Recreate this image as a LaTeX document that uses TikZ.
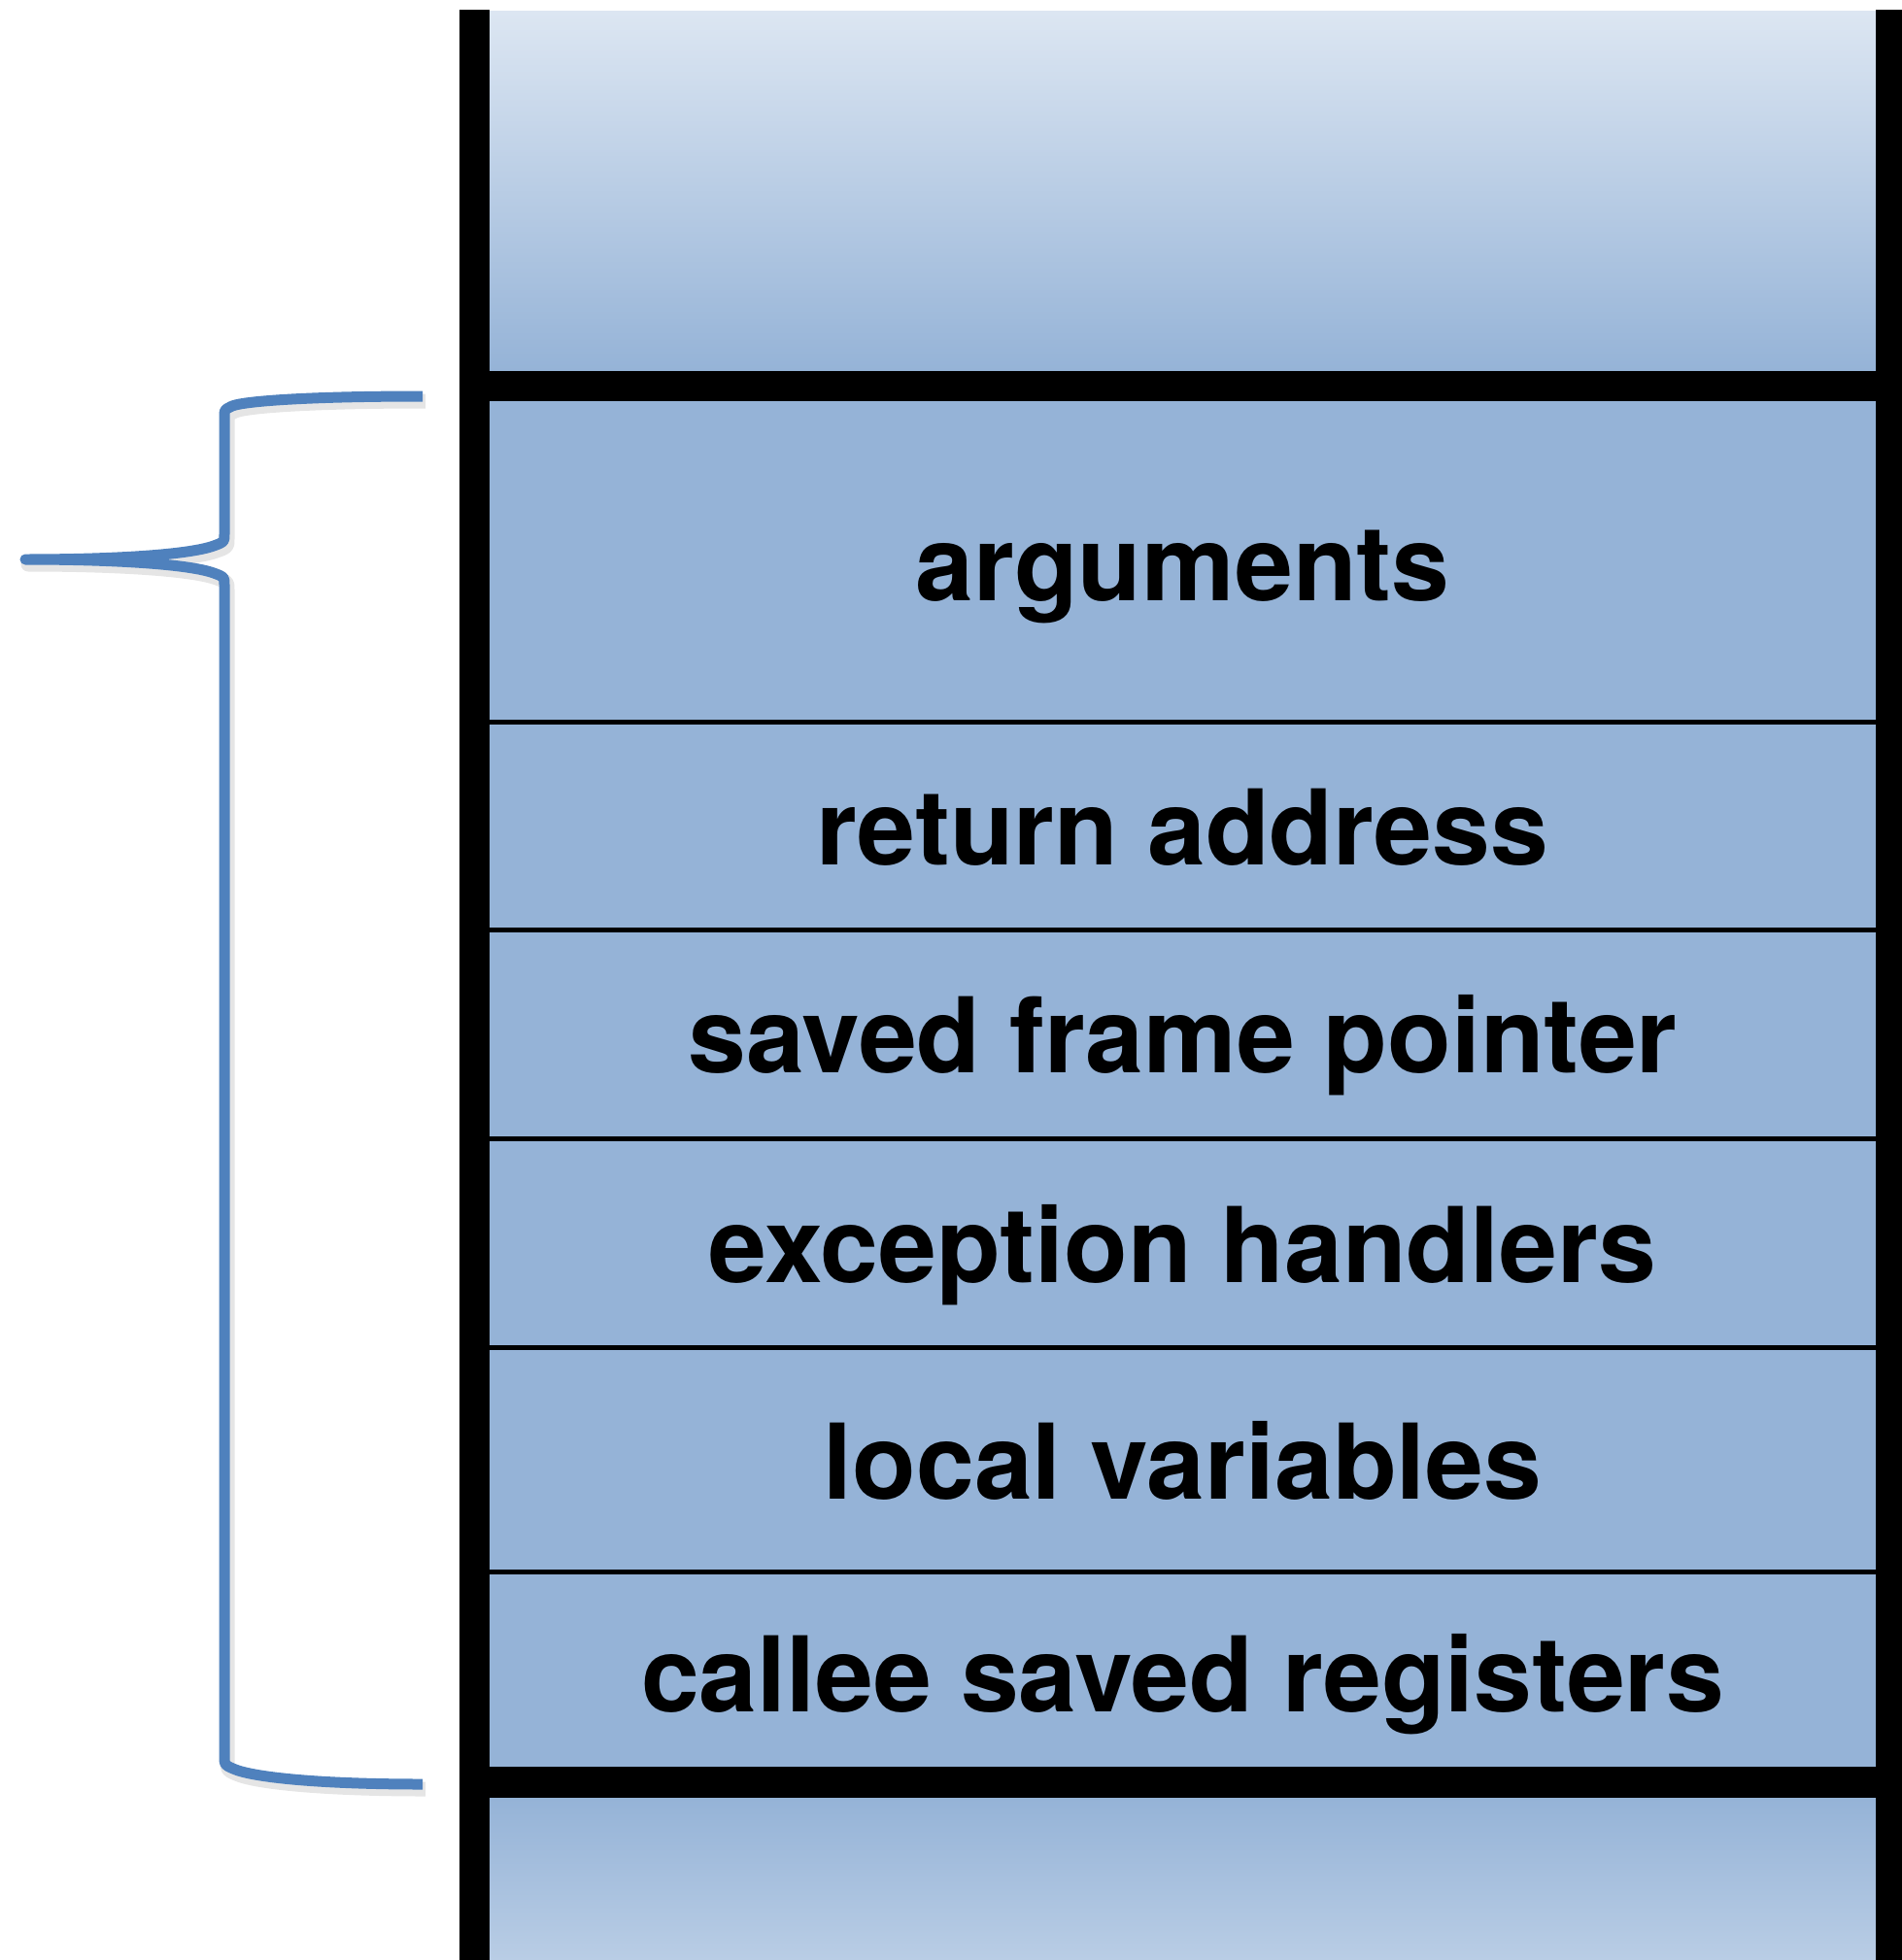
\documentclass[tikz,border=0pt]{standalone}
\usepackage{fontspec}
\setmainfont{TeX Gyre Heros}
\usepackage{tikz}
\usetikzlibrary{positioning}
\definecolor{cellblue}{HTML}{95B3D7}
\definecolor{paleblue}{HTML}{DCE6F2}
\definecolor{lowblue}{HTML}{B9CDE5}
\definecolor{braceblue}{HTML}{4F81BD}
\tikzset{
  slot/.style={fill=cellblue, inner sep=0pt, minimum width=14.27cm,
    text height=0.80cm, text depth=0pt,
    font=\fontsize{30.6}{36}\selectfont\bfseries},
  thinsep/.style={line width=0.05cm, black},
  bar/.style={fill=black},
  bracket/.style={line width=0.11cm, braceblue, line join=round},
  bracketshadow/.style={bracket, black, opacity=0.10, line width=0.15cm},
}
\newcommand{\bracepath}{(4.35,-4.08) .. controls (3.20,-4.08) and (2.45,-4.13) .. (2.37,-4.19)
    .. controls (2.31,-4.22) .. (2.31,-4.30) -- (2.31,-5.50)
    .. controls (2.31,-5.58) .. (2.20,-5.62)
    .. controls (1.95,-5.71) and (1.20,-5.76) .. (0.26,-5.76)
    .. controls (1.20,-5.76) and (1.95,-5.81) .. (2.20,-5.90)
    .. controls (2.31,-5.94) .. (2.31,-6.02) -- (2.31,-18.08)
    .. controls (2.31,-18.17) .. (2.40,-18.21)
    .. controls (2.60,-18.30) and (3.30,-18.37) .. (4.35,-18.37)}

\begin{document}
\begin{tikzpicture}
  \useasboundingbox (0,0) rectangle (19.58,-20.18);
  % frames above and below
  \shade[top color=paleblue, bottom color=cellblue] (5.04,-0.12) rectangle (19.31,-3.82);
  \shade[top color=cellblue, bottom color=lowblue] (5.04,-18.51) rectangle (19.31,-20.18);
  % current frame
  \node[slot, minimum height=3.30cm] (args) at (12.175,-5.78) {arguments};
  \node[slot, minimum height=2.12cm, below=0pt of args] (ret) {return address};
  \node[slot, minimum height=2.14cm, below=0pt of ret] (fp) {saved frame pointer};
  \node[slot, minimum height=2.14cm, below=0pt of fp] (exc) {exception handlers};
  \node[slot, minimum height=2.29cm, below=0pt of exc] (locals) {local variables};
  \node[slot, minimum height=2.07cm, below=0pt of locals] (callee) {callee saved registers};
  \foreach \c in {args,ret,fp,exc,locals}
    \draw[thinsep] (\c.south west) -- (\c.south east);
  % walls and frame boundaries
  \fill[bar] (4.73,-0.10) rectangle (5.04,-20.18);
  \fill[bar] (19.31,-0.10) rectangle (19.58,-20.18);
  \fill[bar] (4.73,-3.82) rectangle (19.58,-4.13);
  \fill[bar] (4.73,-18.19) rectangle (19.58,-18.51);
  % brace
  \draw[bracketshadow, shift={(0.03,-0.05)}] \bracepath;
  \draw[bracket] \bracepath;
\end{tikzpicture}
\end{document}
